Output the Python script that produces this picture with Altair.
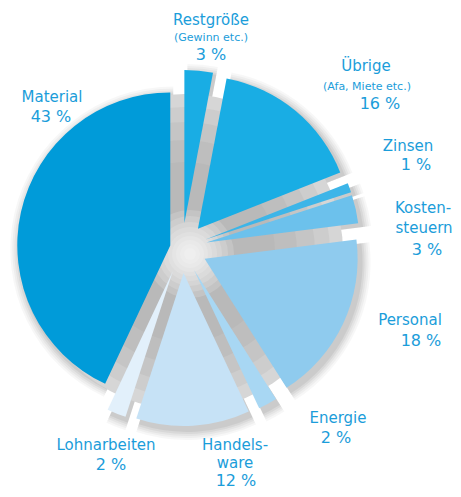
import math
import pandas as pd
import altair as alt

# ---- data ----
labels = ["Restgröße", "Übrige", "Zinsen", "Kostensteuern", "Personal",
          "Energie", "Handelsware", "Lohnarbeiten", "Material"]
values = [3, 16, 1, 3, 18, 2, 12, 2, 43]

# ---- styles ----
colors = ["#19ade4", "#19ade4", "#3db5e8", "#6cc1ec", "#8fcbee",
          "#a8d7f3", "#c6e2f6", "#e2f0fb", "#009bd9"]
explode = [25, 25, 25, 25, 25, 25, 25, 25, 12]

# label text lines: (text, x, y, kind)
label_lines = [
    ("Restgröße", 203, 12, "name"), ("(Gewinn etc.)", 203, 30, "sub"), ("3 %", 203, 47, "pct"),
    ("Übrige", 358, 58, "name"), ("(Afa, Miete etc.)", 359, 79, "sub"), ("16 %", 372, 96, "pct"),
    ("Zinsen", 400, 138, "name"), ("1 %", 408, 157, "pct"),
    ("Kosten-", 415, 200, "name"), ("steuern", 416, 220, "name"), ("3 %", 419, 242, "pct"),
    ("Personal", 402, 312, "name"), ("18 %", 413, 333, "pct"),
    ("Energie", 330, 410, "name"), ("2 %", 328, 430, "pct"),
    ("Handels-", 227, 437, "name"), ("ware", 227, 455, "name"), ("12 %", 228, 473, "pct"),
    ("Lohnarbeiten", 98, 437, "name"), ("2 %", 103, 457, "pct"),
    ("Material", 44, 89, "name"), ("43 %", 43, 109, "pct"),
]

W, H = 445, 481
CX, CY = 174, 240
R = 153
TEXT = "#1b9dda"
FONT = "DejaVu Sans"

df = pd.DataFrame({"label": labels, "value": values, "order": list(range(len(labels))),
                   "explode": explode})

theta_scale = alt.Scale(domain=[0, 100], range=[0, 2 * math.pi])

base = (
    alt.Chart(df)
    .transform_window(cum="sum(value)", sort=[alt.SortField("order")], frame=[None, 0])
    .transform_calculate(start="datum.cum - datum.value")
    .transform_calculate(mid="(datum.cum - datum.value / 2) / 100 * 2 * PI")
    .transform_calculate(cx=f"{CX} + datum.explode * sin(datum.mid)")
    .transform_calculate(cy=f"{CY} - datum.explode * cos(datum.mid)")
    .transform_calculate(sx="datum.cx + 3", sy="datum.cy + 4")
)

theta_enc = alt.Theta("start:Q", stack=None, scale=theta_scale)
theta2_enc = alt.Theta2("cum:Q")

one = pd.DataFrame({"k": [0]})


def disk(r, color, op, dx=0, dy=0):
    return (alt.Chart(one)
            .mark_arc(radius=r, theta=0, theta2=2 * math.pi, color=color, opacity=op)
            .encode(x=alt.value(CX + dx), y=alt.value(CY + dy)))


layers = []
# soft drop shadows of each slice
for k, op in [(10, 0.03), (8, 0.035), (6, 0.04), (4, 0.05), (2, 0.06)]:
    layers.append(
        base.mark_arc(radius=R + k, color="#000000", opacity=op).encode(
            theta=theta_enc, theta2=theta2_enc,
            x=alt.X("sx:Q", scale=None, axis=None), y=alt.Y("sy:Q", scale=None, axis=None))
    )
# grey fill seen through the gaps (lighter towards the rim)
for r, col in [(158, "#d6d6d6"), (145, "#cdcdcd"), (130, "#c5c5c5"), (112, "#bebebe"), (90, "#b9b9b9")]:
    layers.append(disk(r, col, 1, 3, 4))
# white glow in the centre
for r in [44, 38, 32, 27, 22, 18, 14, 10, 6]:
    layers.append(disk(r, "#ffffff", 0.16, 8, 6))
# slices
layers.append(
    base.mark_arc(radius=R).encode(
        theta=theta_enc, theta2=theta2_enc,
        x=alt.X("cx:Q", scale=None, axis=None), y=alt.Y("cy:Q", scale=None, axis=None),
        color=alt.Color("label:N", scale=alt.Scale(domain=labels, range=colors), legend=None),
    )
)

ldf = pd.DataFrame(label_lines, columns=["text", "x", "y", "kind"])
sizes = {"name": 15, "sub": 11, "pct": 16}
for kind, size in sizes.items():
    layers.append(
        alt.Chart(ldf).transform_filter(f"datum.kind == '{kind}'")
        .mark_text(font=FONT, fontSize=size, color=TEXT, align="center", baseline="middle")
        .encode(x=alt.X("x:Q", scale=None, axis=None), y=alt.Y("y:Q", scale=None, axis=None),
                text="text:N")
    )

chart = (
    alt.layer(*layers)
    .properties(width=W, height=H, autosize="none", padding=0)
    .configure_view(stroke=None)
)

chart.save("out.html", embed_options={"renderer": "svg", "actions": False})
